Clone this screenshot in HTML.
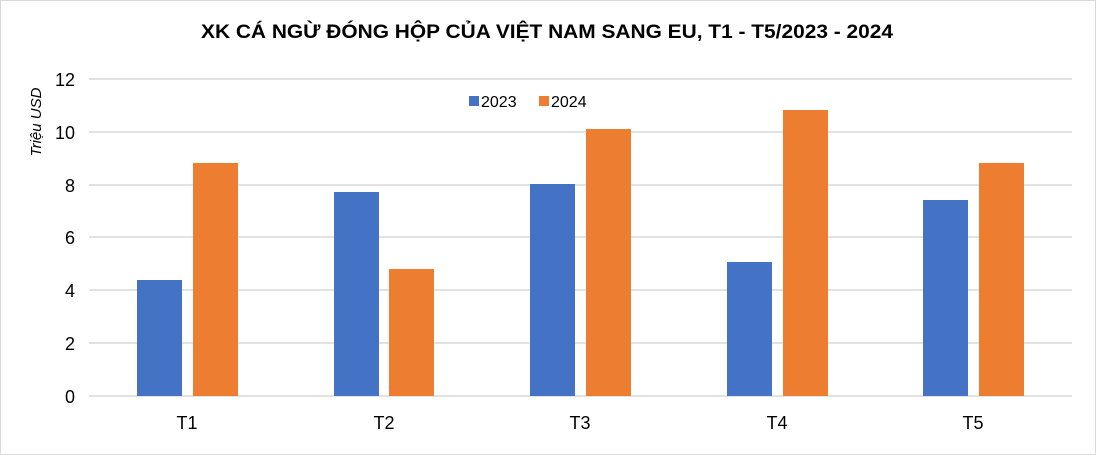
<!DOCTYPE html>
<html><head><meta charset="utf-8"><style>
html,body{margin:0;padding:0;background:#fff;}
svg{display:block;font-family:"Liberation Sans",Arial,sans-serif;}
</style></head><body>
<svg width="1096" height="455" viewBox="0 0 1096 455" xmlns="http://www.w3.org/2000/svg">
<rect x="0.5" y="0.5" width="1095" height="454" fill="#fff" stroke="#d9d9d9"/>
<text x="547" y="38" text-anchor="middle" font-size="19" font-weight="bold" fill="#000" textLength="692" lengthAdjust="spacingAndGlyphs">XK CÁ NGỪ ĐÓNG HỘP CỦA VIỆT NAM SANG EU, T1 - T5/2023 - 2024</text>
<g stroke="#d9d9d9" stroke-width="1.5">
<line x1="89" x2="1072" y1="79" y2="79"/>
<line x1="89" x2="1072" y1="132" y2="132"/>
<line x1="89" x2="1072" y1="185" y2="185"/>
<line x1="89" x2="1072" y1="237" y2="237"/>
<line x1="89" x2="1072" y1="290" y2="290"/>
<line x1="89" x2="1072" y1="343" y2="343"/>
<line x1="89" x2="1072" y1="396" y2="396"/>
</g>
<g font-size="18" fill="#000" text-anchor="end">
<text x="75" y="86">12</text><text x="75" y="139">10</text><text x="75" y="192">8</text>
<text x="75" y="244">6</text><text x="75" y="297">4</text><text x="75" y="350">2</text><text x="75" y="403">0</text>
</g>
<text transform="translate(41,122) rotate(-90)" text-anchor="middle" font-size="15" font-style="italic" fill="#000">Triệu USD</text>
<rect x="469" y="96" width="10" height="10" fill="#4472c4"/>
<text x="481" y="107" font-size="16">2023</text>
<rect x="539" y="96" width="10" height="10" fill="#ed7d31"/>
<text x="551" y="107" font-size="16">2024</text>
<g fill="#4472c4">
<rect x="137" y="280" width="45" height="116"/>
<rect x="334" y="192" width="45" height="204"/>
<rect x="530" y="184" width="45" height="212"/>
<rect x="727" y="262" width="45" height="134"/>
<rect x="923" y="200" width="45" height="196"/>
</g>
<g fill="#ed7d31">
<rect x="193" y="163" width="45" height="233"/>
<rect x="389" y="269" width="45" height="127"/>
<rect x="586" y="129" width="45" height="267"/>
<rect x="783" y="110" width="45" height="286"/>
<rect x="979" y="163" width="45" height="233"/>
</g>
<g font-size="18" text-anchor="middle">
<text x="187" y="429">T1</text><text x="384" y="429">T2</text><text x="580" y="429">T3</text>
<text x="777" y="429">T4</text><text x="973" y="429">T5</text>
</g>
</svg>
</body></html>
